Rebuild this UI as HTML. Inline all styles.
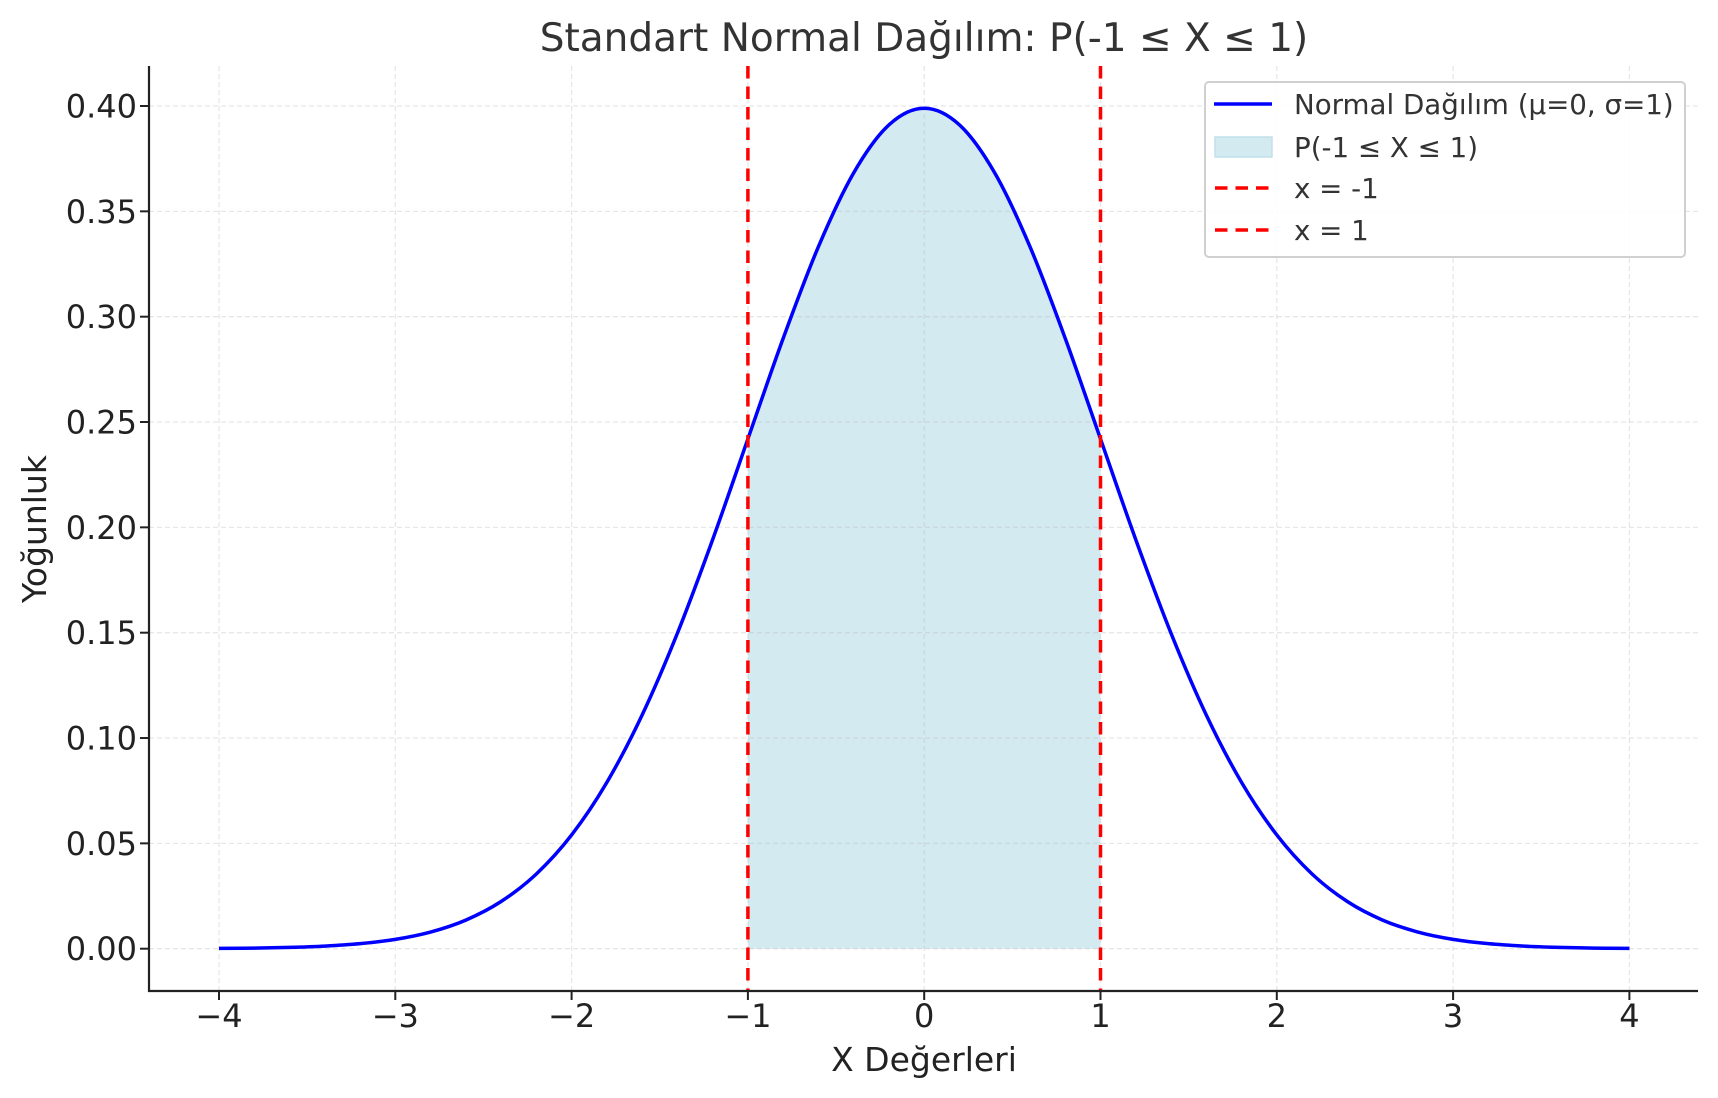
<!DOCTYPE html>
<html><head><meta charset="utf-8"><style>
html,body{margin:0;padding:0;background:#fff;}
svg{display:block;font-family:"DejaVu Sans","Liberation Sans",sans-serif;}
</style></head><body>
<svg id="chart" width="1718" height="1098" viewBox="0 0 1718 1098" xmlns="http://www.w3.org/2000/svg">
<rect width="1718" height="1098" fill="#fff"/>
<g id="fill-layer"></g>
<g id="grid-layer"></g>
<g id="lines-layer"></g>
<g id="axes-layer"></g>
<text x="924" y="51" font-size="39" text-anchor="middle" fill="#333">Standart Normal Dağılım: P(-1 ≤ X ≤ 1)</text>
<text x="924" y="1071" font-size="33" text-anchor="middle" fill="#222">X Değerleri</text>
<text x="0" y="0" font-size="33" text-anchor="middle" fill="#222" transform="translate(46,529) rotate(-90)">Yoğunluk</text>
<g>
<rect x="1205" y="82" width="480" height="175" rx="4" fill="#fff" fill-opacity="0.85" stroke="#d0d0d0" stroke-width="2"/>
<line x1="1214" y1="104" x2="1272" y2="104" stroke="#0000ff" stroke-width="3.5"/>
<text x="1294" y="114" font-size="27.7" fill="#333">Normal Dağılım (μ=0, σ=1)</text>
<rect x="1215" y="137" width="57" height="20" fill="#d4eaf1" stroke="#c2e0ea" stroke-width="1.5"/>
<text x="1294" y="157" font-size="27.7" fill="#333">P(-1 ≤ X ≤ 1)</text>
<line x1="1215" y1="188" x2="1272" y2="188" stroke="#ff0000" stroke-width="3.5" stroke-dasharray="12.5,8"/>
<text x="1294" y="198" font-size="27.7" fill="#333">x = -1</text>
<line x1="1215" y1="230" x2="1272" y2="230" stroke="#ff0000" stroke-width="3.5" stroke-dasharray="12.5,8"/>
<text x="1294" y="240" font-size="27.7" fill="#333">x = 1</text>
</g>
</svg>
<script>
const xValues = [-4,-3.8,-3.6,-3.4,-3.2,-3,-2.8,-2.6,-2.4,-2.2,-2,-1.8,-1.6,-1.4,-1.2,-1,-0.8,-0.6,-0.4,-0.2,0,0.2,0.4,0.6,0.8,1,1.2,1.4,1.6,1.8,2,2.2,2.4,2.6,2.8,3,3.2,3.4,3.6,3.8,4];
const densityValues = [0.000134,0.000292,0.000612,0.001232,0.002384,0.004432,0.007915,0.013583,0.022395,0.035475,0.053991,0.078950,0.110921,0.149727,0.194186,0.241971,0.289692,0.333225,0.368270,0.391043,0.398942,0.391043,0.368270,0.333225,0.289692,0.241971,0.194186,0.149727,0.110921,0.078950,0.053991,0.035475,0.022395,0.013583,0.007915,0.004432,0.002384,0.001232,0.000612,0.000292,0.000134];
const xTicks = [-4,-3,-2,-1,0,1,2,3,4];
const xTickLabels = ["−4","−3","−2","−1","0","1","2","3","4"];
const yTicks = [0,0.05,0.1,0.15,0.2,0.25,0.3,0.35,0.4];
const yTickLabels = ["0.00","0.05","0.10","0.15","0.20","0.25","0.30","0.35","0.40"];
const boundaries = [-1, 1];

const NS="http://www.w3.org/2000/svg";
const X=v=>219+(v+4)*176.3;
const Y=v=>948.7-v*2106.75;
const plotL=149, plotR=1698, plotT=66, plotB=991;
function mk(tag,parent,attrs){const e=document.createElementNS(NS,tag);for(const k in attrs)e.setAttribute(k,attrs[k]);parent.appendChild(e);return e;}
function smoothPath(pts){
  let d="M"+pts[0][0]+","+pts[0][1];
  for(let i=0;i<pts.length-1;i++){
    const p0=pts[i-1]||pts[i],p1=pts[i],p2=pts[i+1],p3=pts[i+2]||p2;
    const c1=[p1[0]+(p2[0]-p0[0])/6,p1[1]+(p2[1]-p0[1])/6];
    const c2=[p2[0]-(p3[0]-p1[0])/6,p2[1]-(p3[1]-p1[1])/6];
    d+=" C"+c1[0]+","+c1[1]+" "+c2[0]+","+c2[1]+" "+p2[0]+","+p2[1];
  }
  return d;
}
const fillL=document.getElementById('fill-layer');
const gridL=document.getElementById('grid-layer');
const linesL=document.getElementById('lines-layer');
const axesL=document.getElementById('axes-layer');

const inPts=[];
xValues.forEach((x,i)=>{if(x>=boundaries[0]&&x<=boundaries[1])inPts.push([X(x),Y(densityValues[i])]);});
const fd=smoothPath(inPts)+" L"+X(boundaries[1])+","+Y(0)+" L"+X(boundaries[0])+","+Y(0)+" Z";
const fillEl=mk('path',fillL,{d:fd,fill:'#d4eaf1'});



xTicks.forEach(t=>{
  const g=mk('line',gridL,{x1:X(t),x2:X(t),y1:plotT,y2:plotB,stroke:'#b0b0b0','stroke-opacity':0.3,'stroke-width':1.3,'stroke-dasharray':'5,3'});
  
  
});
yTicks.forEach(t=>{
  const g=mk('line',gridL,{x1:plotL,x2:plotR,y1:Y(t),y2:Y(t),stroke:'#b0b0b0','stroke-opacity':0.3,'stroke-width':1.3,'stroke-dasharray':'5,3'});
  
  
});

const pts=xValues.map((x,i)=>[X(x),Y(densityValues[i])]);
const curve=mk('path',linesL,{d:smoothPath(pts),fill:'none',stroke:'#0000ff','stroke-width':3.5,'stroke-linejoin':'round'});



boundaries.forEach(b=>{
  const l=mk('line',linesL,{x1:X(b),x2:X(b),y1:plotT,y2:plotB,stroke:'#ff0000','stroke-width':3.5,'stroke-dasharray':'12.5,8'});
  
  
});

const ya=mk('line',axesL,{x1:plotL,x2:plotL,y1:plotT,y2:plotB+1,stroke:'#222','stroke-width':2.2});


const xa=mk('line',axesL,{x1:plotL-1,x2:plotR,y1:plotB,y2:plotB,stroke:'#222','stroke-width':2.2});


xTicks.forEach((t,i)=>{
  const tk=mk('line',axesL,{x1:X(t),x2:X(t),y1:plotB,y2:plotB+9,stroke:'#222','stroke-width':2});
  
  
  const tx=mk('text',axesL,{x:X(t),y:1027,'font-size':32,'text-anchor':'middle',fill:'#222'});
  tx.textContent=xTickLabels[i];
  
  
});
yTicks.forEach((t,i)=>{
  const tk=mk('line',axesL,{x1:plotL-9,x2:plotL,y1:Y(t),y2:Y(t),stroke:'#222','stroke-width':2});
  
  
  const tx=mk('text',axesL,{x:137,y:Y(t)+11.5,'font-size':32,'text-anchor':'end',fill:'#222'});
  tx.textContent=yTickLabels[i];
  
  
});
</script>
</body></html>
